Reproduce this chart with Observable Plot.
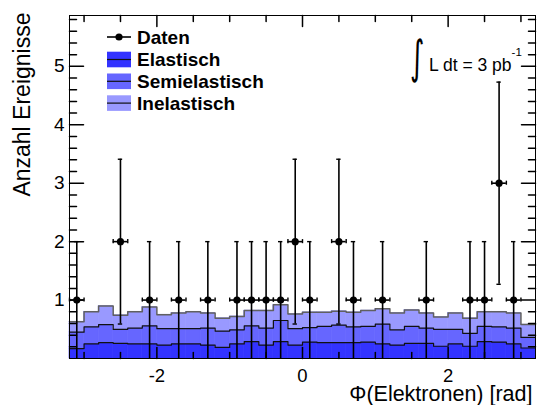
<!DOCTYPE html>
<html><head><meta charset="utf-8">
<script src="https://cdn.jsdelivr.net/npm/d3@7"></script>
<script src="https://cdn.jsdelivr.net/npm/@observablehq/plot@0.6"></script>
<style>
body{margin:0;background:#fff}
#chart svg{display:block}
</style>
</head><body><div id="chart"></div>
<script>
// ---- data ----
const binEdges = [-3.2,-3.0,-2.8,-2.6,-2.4,-2.2,-2.0,-1.8,-1.6,-1.4,-1.2,-1.0,-0.8,-0.6,-0.4,-0.2,0,0.2,0.4,0.6,0.8,1.0,1.2,1.4,1.6,1.8,2.0,2.2,2.4,2.6,2.8,3.0,3.2];
const comps = ["Elastisch", "Semielastisch", "Inelastisch"];
const elastisch = [0.17,0.25,0.27,0.26,0.25,0.25,0.23,0.25,0.25,0.23,0.19,0.25,0.29,0.23,0.29,0.23,0.28,0.27,0.27,0.27,0.28,0.25,0.23,0.26,0.26,0.21,0.25,0.21,0.29,0.28,0.25,0.18];
const semielastisch = [0.28,0.29,0.31,0.24,0.27,0.31,0.28,0.26,0.26,0.29,0.28,0.24,0.27,0.29,0.36,0.28,0.25,0.28,0.30,0.27,0.27,0.34,0.26,0.29,0.26,0.29,0.25,0.22,0.26,0.26,0.27,0.18];
const inelastisch = [0.18,0.26,0.32,0.24,0.28,0.32,0.24,0.27,0.29,0.26,0.22,0.23,0.26,0.30,0.27,0.25,0.26,0.24,0.24,0.25,0.27,0.26,0.29,0.28,0.26,0.21,0.28,0.26,0.25,0.26,0.26,0.22];
const datenX = [-3.1,-2.5,-2.1,-1.7,-1.3,-0.9,-0.7,-0.5,-0.3,-0.1,0.1,0.5,0.7,1.1,1.7,2.3,2.5,2.7,2.9];
const datenN = [1,2,1,1,1,1,1,1,1,2,1,2,1,1,1,1,1,3,1];
const datenErr = [1,1.41,1,1,1,1,1,1,1,1.41,1,1.41,1,1,1,1,1,1.73,1];
const yTickLabels = [1,2,3,4,5];
const yMinorTicks = [0.2,0.4,0.6,0.8,1.2,1.4,1.6,1.8,2.2,2.4,2.6,2.8,3.2,3.4,3.6,3.8,4.2,4.4,4.6,4.8,5.2,5.4,5.6,5.8];
const xTickLabels = [-2,0,2];
const xMinorTicks = [-3,-2.5,-1.5,-1,-0.5,0.5,1,1.5,2.5,3];
const xLabel = "Φ(Elektronen) [rad]";
const yLabel = "Anzahl Ereignisse";
const colors = ["#3333ff", "#6666ff", "#9999ff"];

// ---- derived tables ----
const compValues = [elastisch, semielastisch, inelastisch];
const hist = comps.flatMap((c, j) => compValues[j].map((v, i) => ({comp: c, x1: binEdges[i], x2: binEdges[i + 1], v})));
const nb = elastisch.length;
const cum = [];
let run = new Array(nb).fill(0);
compValues.forEach((vals) => { run = run.map((r, i) => r + vals[i]); cum.push(run.slice()); });
const stepPts = (lev) => binEdges.map((e, i) => ({x: e, y: lev[Math.min(i, nb - 1)]}));
const daten = datenX.map((x, i) => ({x, n: datenN[i], lo: datenN[i] - datenErr[i], hi: datenN[i] + datenErr[i]}));
const halfBin = (binEdges[1] - binEdges[0]) / 2;

const tickShape = {draw(ctx, l) { ctx.moveTo(0, 0); ctx.lineTo(0, -l); }};
const xDom = [binEdges[0], binEdges[binEdges.length - 1]];
const yDom = [0, 5.87];
const font = "'Liberation Sans', Arial, Helvetica, sans-serif";

const chart = Plot.plot({
  width: 539, height: 405,
  marginLeft: 69, marginRight: 4, marginTop: 15, marginBottom: 47,
  style: {fontFamily: font, background: "white"},
  x: {domain: xDom},
  y: {domain: yDom},
  color: {domain: comps, range: colors},
  marks: [
    Plot.rectY(hist, {x1: "x1", x2: "x2", y: "v", z: "comp", fill: "comp", order: comps, inset: 0, stroke: "comp", strokeWidth: 0.6}),
    Plot.line(stepPts(cum[2]), {x: "x", y: "y", curve: "step-after", stroke: "#606060", strokeWidth: 1.5}),
    Plot.line(stepPts(cum[1]), {x: "x", y: "y", curve: "step-after", stroke: "#111", strokeWidth: 1.2}),
    Plot.line(stepPts(cum[0]), {x: "x", y: "y", curve: "step-after", stroke: "#111", strokeWidth: 1.2}),
    // error bars
    Plot.ruleX(daten, {x: "x", y1: d => Math.max(0, d.lo), y2: "hi", stroke: "black", strokeWidth: 1.6}),
    Plot.ruleY(daten, {y: "n", x1: d => d.x - halfBin, x2: d => d.x + halfBin, stroke: "black", strokeWidth: 1.6}),
    Plot.ruleY(daten, {y: "hi", x1: d => d.x - 0.03, x2: d => d.x + 0.03, stroke: "black", strokeWidth: 1.4}),
    Plot.ruleY(daten.filter(d => d.lo > 0), {y: "lo", x1: d => d.x - 0.03, x2: d => d.x + 0.03, stroke: "black", strokeWidth: 1.4}),
    Plot.ruleX(daten, {x: d => d.x - halfBin, y1: d => d.n - 0.035, y2: d => d.n + 0.035, stroke: "black", strokeWidth: 1.4}),
    Plot.ruleX(daten, {x: d => d.x + halfBin, y1: d => d.n - 0.035, y2: d => d.n + 0.035, stroke: "black", strokeWidth: 1.4}),
    Plot.dot(daten, {x: "x", y: "n", r: 3.6, fill: "black"}),
    // inward ticks
    Plot.vector(yTickLabels, {x: xDom[0], y: d => d, length: 14, rotate: 90, anchor: "start", shape: tickShape, stroke: "black"}),
    Plot.vector(yMinorTicks, {x: xDom[0], y: d => d, length: 7, rotate: 90, anchor: "start", shape: tickShape, stroke: "black"}),
    Plot.vector(yTickLabels, {x: xDom[1], y: d => d, length: 14, rotate: -90, anchor: "start", shape: tickShape, stroke: "black"}),
    Plot.vector(yMinorTicks, {x: xDom[1], y: d => d, length: 7, rotate: -90, anchor: "start", shape: tickShape, stroke: "black"}),
    Plot.vector(xTickLabels, {x: d => d, y: yDom[0], length: 11, rotate: 0, anchor: "start", shape: tickShape, stroke: "black"}),
    Plot.vector(xMinorTicks, {x: d => d, y: yDom[0], length: 6, rotate: 0, anchor: "start", shape: tickShape, stroke: "black"}),
    Plot.vector(xTickLabels, {x: d => d, y: yDom[1], length: 11, rotate: 180, anchor: "start", shape: tickShape, stroke: "black"}),
    Plot.vector(xMinorTicks, {x: d => d, y: yDom[1], length: 6, rotate: 180, anchor: "start", shape: tickShape, stroke: "black"}),
    Plot.axisY({ticks: yTickLabels, tickSize: 0, tickPadding: 5, fontSize: 19, tickFormat: d => String(d), label: null}),
    Plot.axisX({ticks: xTickLabels, tickSize: 0, tickPadding: 10, fontSize: 18.5, tickFormat: d => String(d), label: null}),
    Plot.frame({stroke: "black", strokeWidth: 1}),
    Plot.text([xLabel], {text: d => d, frameAnchor: "bottom-right", textAnchor: "end", lineAnchor: "bottom", dy: 42, dx: -3, fontSize: 21.5, fill: "black"}),
    Plot.text([yLabel], {text: d => d, frameAnchor: "top-left", textAnchor: "end", lineAnchor: "bottom", rotate: -90, dx: -40, dy: -3, fontSize: 23, fill: "black"})
  ]
});
document.getElementById("chart").appendChild(chart);

// ---- legend & annotation (drawn into the same SVG) ----
const svg = d3.select(chart);
const lg = svg.append("g").attr("font-family", font).attr("font-weight", "bold").attr("font-size", 19).attr("text-anchor", "start");
lg.append("line").attr("x1", 107).attr("x2", 131).attr("y1", 37).attr("y2", 37).attr("stroke", "black").attr("stroke-width", 1.6);
lg.append("circle").attr("cx", 119).attr("cy", 37).attr("r", 3.6).attr("fill", "black");
lg.append("text").attr("x", 137).attr("y", 43.5).text("Daten");
comps.forEach((c, i) => {
  const cy = 59.5 + i * 21.8;
  lg.append("rect").attr("x", 107).attr("y", cy - 7.8).attr("width", 24).attr("height", 15.6).attr("fill", colors[i]);
  lg.append("line").attr("x1", 107).attr("x2", 131).attr("y1", cy).attr("y2", cy).attr("stroke", "#111").attr("stroke-width", 1.2);
  lg.append("text").attr("x", 137).attr("y", cy + 6.8).text(c);
});
const an = svg.append("g").attr("font-family", font).attr("fill", "black").attr("text-anchor", "start");
an.append("text").attr("transform", "translate(410,73) scale(0.6,1)").attr("font-size", 46).attr("font-family", "'DejaVu Sans', sans-serif").text("∫");
const t = an.append("text").attr("x", 429).attr("y", 71).attr("font-size", 17.5);
t.append("tspan").text("L dt = 3 pb");
t.append("tspan").attr("dy", -15).attr("font-size", 11.5).text("-1");
</script>
</body></html>
